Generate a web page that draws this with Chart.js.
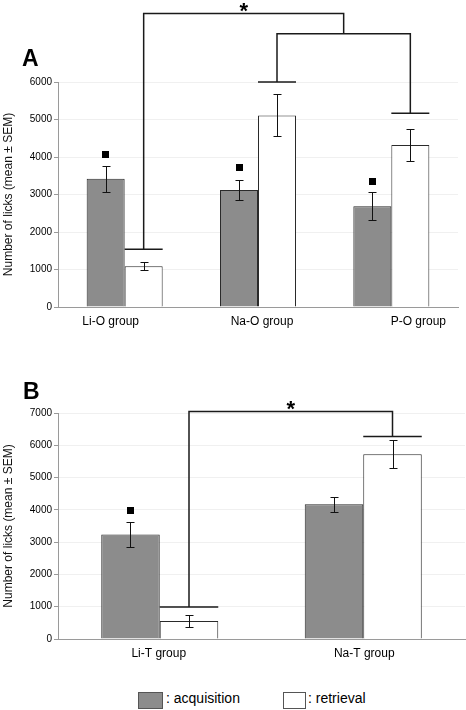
<!DOCTYPE html>
<html>
<head>
<meta charset="utf-8">
<script src="https://cdn.jsdelivr.net/npm/chart.js@4/dist/chart.umd.min.js"></script>
<style>
html,body{margin:0;padding:0;background:#fff;width:466px;height:710px;overflow:hidden;font-family:"Liberation Sans",Arial,sans-serif;}
.wrap{position:absolute;left:0;width:466px;height:340px;}
#wa{top:0;}
#wb{top:340px;}
.panel{position:absolute;font-weight:bold;font-size:23px;line-height:23px;color:#000;}
.sw{position:absolute;box-sizing:border-box;border:1px solid #555;height:17px;}
.lt{position:absolute;font-size:14px;line-height:14px;color:#000;white-space:nowrap;}
</style>
</head>
<body>
<div class="wrap" id="wa"><canvas id="ca" width="466" height="340"></canvas></div>
<div class="wrap" id="wb"><canvas id="cb" width="466" height="340"></canvas></div>
<div class="panel" style="left:22px;top:47px;">A</div>
<div class="panel" style="left:23px;top:380px;">B</div>
<div class="sw" style="left:138px;top:692px;width:25px;background:#8c8c8c;"></div>
<div class="lt" style="left:166px;top:691px;">: acquisition</div>
<div class="sw" style="left:283px;top:692px;width:23px;background:#fff;"></div>
<div class="lt" style="left:308px;top:691px;">: retrieval</div>
<script>
// ---------- Data (panel A) ----------
const groupsA   = ['Li-O group', 'Na-O group', 'P-O group'];
const acqA      = [3420, 3120, 2690];
const acqSemA   = [350, 270, 380];
const retA      = [1090, 5110, 4320];
const retSemA   = [100, 560, 430];
const markA     = [4060, 3710, 3340];          // filled-square markers above acquisition bars
const capsA     = [6000, 5170, 1540];          // bracket cap levels: Na-O ret, P-O ret, Li-O ret
const topsA     = [7290, 7830];                // bracket top levels: inner, outer
const yMaxA     = 6000;

// ---------- Data (panel B) ----------
const groupsB   = ['Li-T group', 'Na-T group'];
const acqB      = [3240, 4170];
const acqSemB   = [390, 230];
const retB      = [560, 5720];
const retSemB   = [175, 430];
const markB     = [3990, null];
const capsB     = [990, 6270];                 // Li-T ret, Na-T ret
const topsB     = [7050];
const yMaxB     = 7000;
const yStep     = 1000;

const FONT = '"Liberation Sans", Arial, sans-serif';
Chart.defaults.font.family = FONT;
Chart.defaults.color = '#000';

const overlay = {
  id: 'overlay',
  afterDraw(chart, args, o) {
    const ctx = chart.ctx, ys = chart.scales.y, xs = chart.scales.x;
    ctx.save();
    ctx.strokeStyle = '#111';
    ctx.fillStyle = '#000';
    // error bars
    o.sem.forEach((sems, di) => {
      const ds = chart.data.datasets[di];
      chart.getDatasetMeta(di).data.forEach((el, j) => {
        const v = ds.data[j], s = sems[j];
        const t = Math.round(ys.getPixelForValue(v + s)) + 0.5;
        const b = Math.round(ys.getPixelForValue(v - s)) + 0.5;
        const x = Math.round(el.x) + 0.5;
        ctx.lineWidth = 1;
        ctx.beginPath();
        ctx.moveTo(x, t); ctx.lineTo(x, b);
        ctx.moveTo(x - 4, t); ctx.lineTo(x + 4, t);
        ctx.moveTo(x - 4, b); ctx.lineTo(x + 4, b);
        ctx.stroke();
      });
    });
    // markers
    chart.getDatasetMeta(0).data.forEach((el, j) => {
      const m = o.marks[j];
      if (m == null) return;
      const py = ys.getPixelForValue(m);
      ctx.fillRect(Math.round(el.x - 3.5), Math.round(py - 3.5), 7, 7);
    });
    // brackets
    const done = [];
    ctx.lineWidth = 1.5;
    ctx.strokeStyle = '#1a1a1a';
    o.brackets.forEach(br => {
      const ends = [br.left, br.right].map(e => {
        if (e.bar) {
          const el = chart.getDatasetMeta(e.bar[0]).data[e.bar[1]];
          const cy = ys.getPixelForValue(e.cap);
          ctx.beginPath();
          ctx.moveTo(el.x - el.width / 2, cy); ctx.lineTo(el.x + el.width / 2, cy);
          ctx.stroke();
          return { x: el.x, y: cy };
        }
        return done[e.bracket];
      });
      const ty = ys.getPixelForValue(br.top);
      ctx.beginPath();
      ctx.moveTo(ends[0].x, ends[0].y);
      ctx.lineTo(ends[0].x, ty);
      ctx.lineTo(ends[1].x, ty);
      ctx.lineTo(ends[1].x, ends[1].y);
      ctx.stroke();
      const mid = (ends[0].x + ends[1].x) / 2;
      done.push({ x: mid, y: ty });
      if (br.star) {
        ctx.font = 'bold 22px ' + FONT;
        ctx.textAlign = 'center';
        ctx.textBaseline = 'alphabetic';
        ctx.fillText('*', mid, ty + 5);
      }
    });
    // category labels
    ctx.font = '12px ' + FONT;
    ctx.textAlign = 'center';
    ctx.textBaseline = 'middle';
    chart.data.labels.forEach((lab, i) => {
      ctx.fillText(lab, xs.getPixelForTick(i) + o.labelShift[i], chart.chartArea.bottom + o.labelGap);
    });
    ctx.restore();
  }
};

function makeChart(id, labels, acq, ret, yMax, cfg) {
  return new Chart(document.getElementById(id), {
    type: 'bar',
    data: {
      labels: labels,
      datasets: [
        { label: 'acquisition', data: acq, backgroundColor: '#8c8c8c', borderColor: '#2a2a2a', borderWidth: 1,
          categoryPercentage: cfg.catPct, barPercentage: 1.0 },
        { label: 'retrieval', data: ret, backgroundColor: '#ffffff', borderColor: '#2a2a2a', borderWidth: 1,
          categoryPercentage: cfg.catPct, barPercentage: 1.0 }
      ]
    },
    options: {
      responsive: false,
      animation: false,
      layout: { padding: { top: cfg.top, right: cfg.right, left: 0, bottom: 0 } },
      plugins: {
        legend: { display: false },
        tooltip: { enabled: false },
        overlay: cfg.overlay
      },
      scales: {
        x: {
          grid: { display: false },
          border: { display: true, color: '#9a9a9a', width: 1 },
          ticks: { display: false },
          afterFit: s => { s.height = cfg.xh; }
        },
        y: {
          min: 0, max: yMax,
          ticks: { stepSize: yStep, font: { size: 10 }, padding: 2, color: '#000', callback: v => String(v) },
          grid: { color: '#f0f0f0', tickColor: '#9a9a9a', tickLength: 4, drawTicks: true },
          border: { display: true, color: '#9a9a9a', width: 1 },
          title: { display: true, text: 'Number of licks (mean ± SEM)', font: { size: 12 }, color: '#111',
                   padding: { top: 1, bottom: 0 } },
          afterFit: s => { s.width = 58; }
        }
      }
    },
    plugins: [overlay]
  });
}

makeChart('ca', groupsA, acqA, retA, yMaxA, {
  catPct: 0.57, top: 82, right: 8, xh: 33,
  overlay: {
    sem: [acqSemA, retSemA],
    marks: markA,
    labelShift: [-14, 4, 27],
    labelGap: 15,
    brackets: [
      { left: { bar: [1, 1], cap: capsA[0] }, right: { bar: [1, 2], cap: capsA[1] }, top: topsA[0], star: false },
      { left: { bar: [1, 0], cap: capsA[2] }, right: { bracket: 0 }, top: topsA[1], star: true }
    ]
  }
});

makeChart('cb', groupsB, acqB, retB, yMaxB, {
  catPct: 0.575, top: 73, right: 1, xh: 41,
  overlay: {
    sem: [acqSemB, retSemB],
    marks: markB,
    labelShift: [-1, 1],
    labelGap: 15,
    brackets: [
      { left: { bar: [1, 0], cap: capsB[0] }, right: { bar: [1, 1], cap: capsB[1] }, top: topsB[0], star: true }
    ]
  }
});
</script>
</body>
</html>
